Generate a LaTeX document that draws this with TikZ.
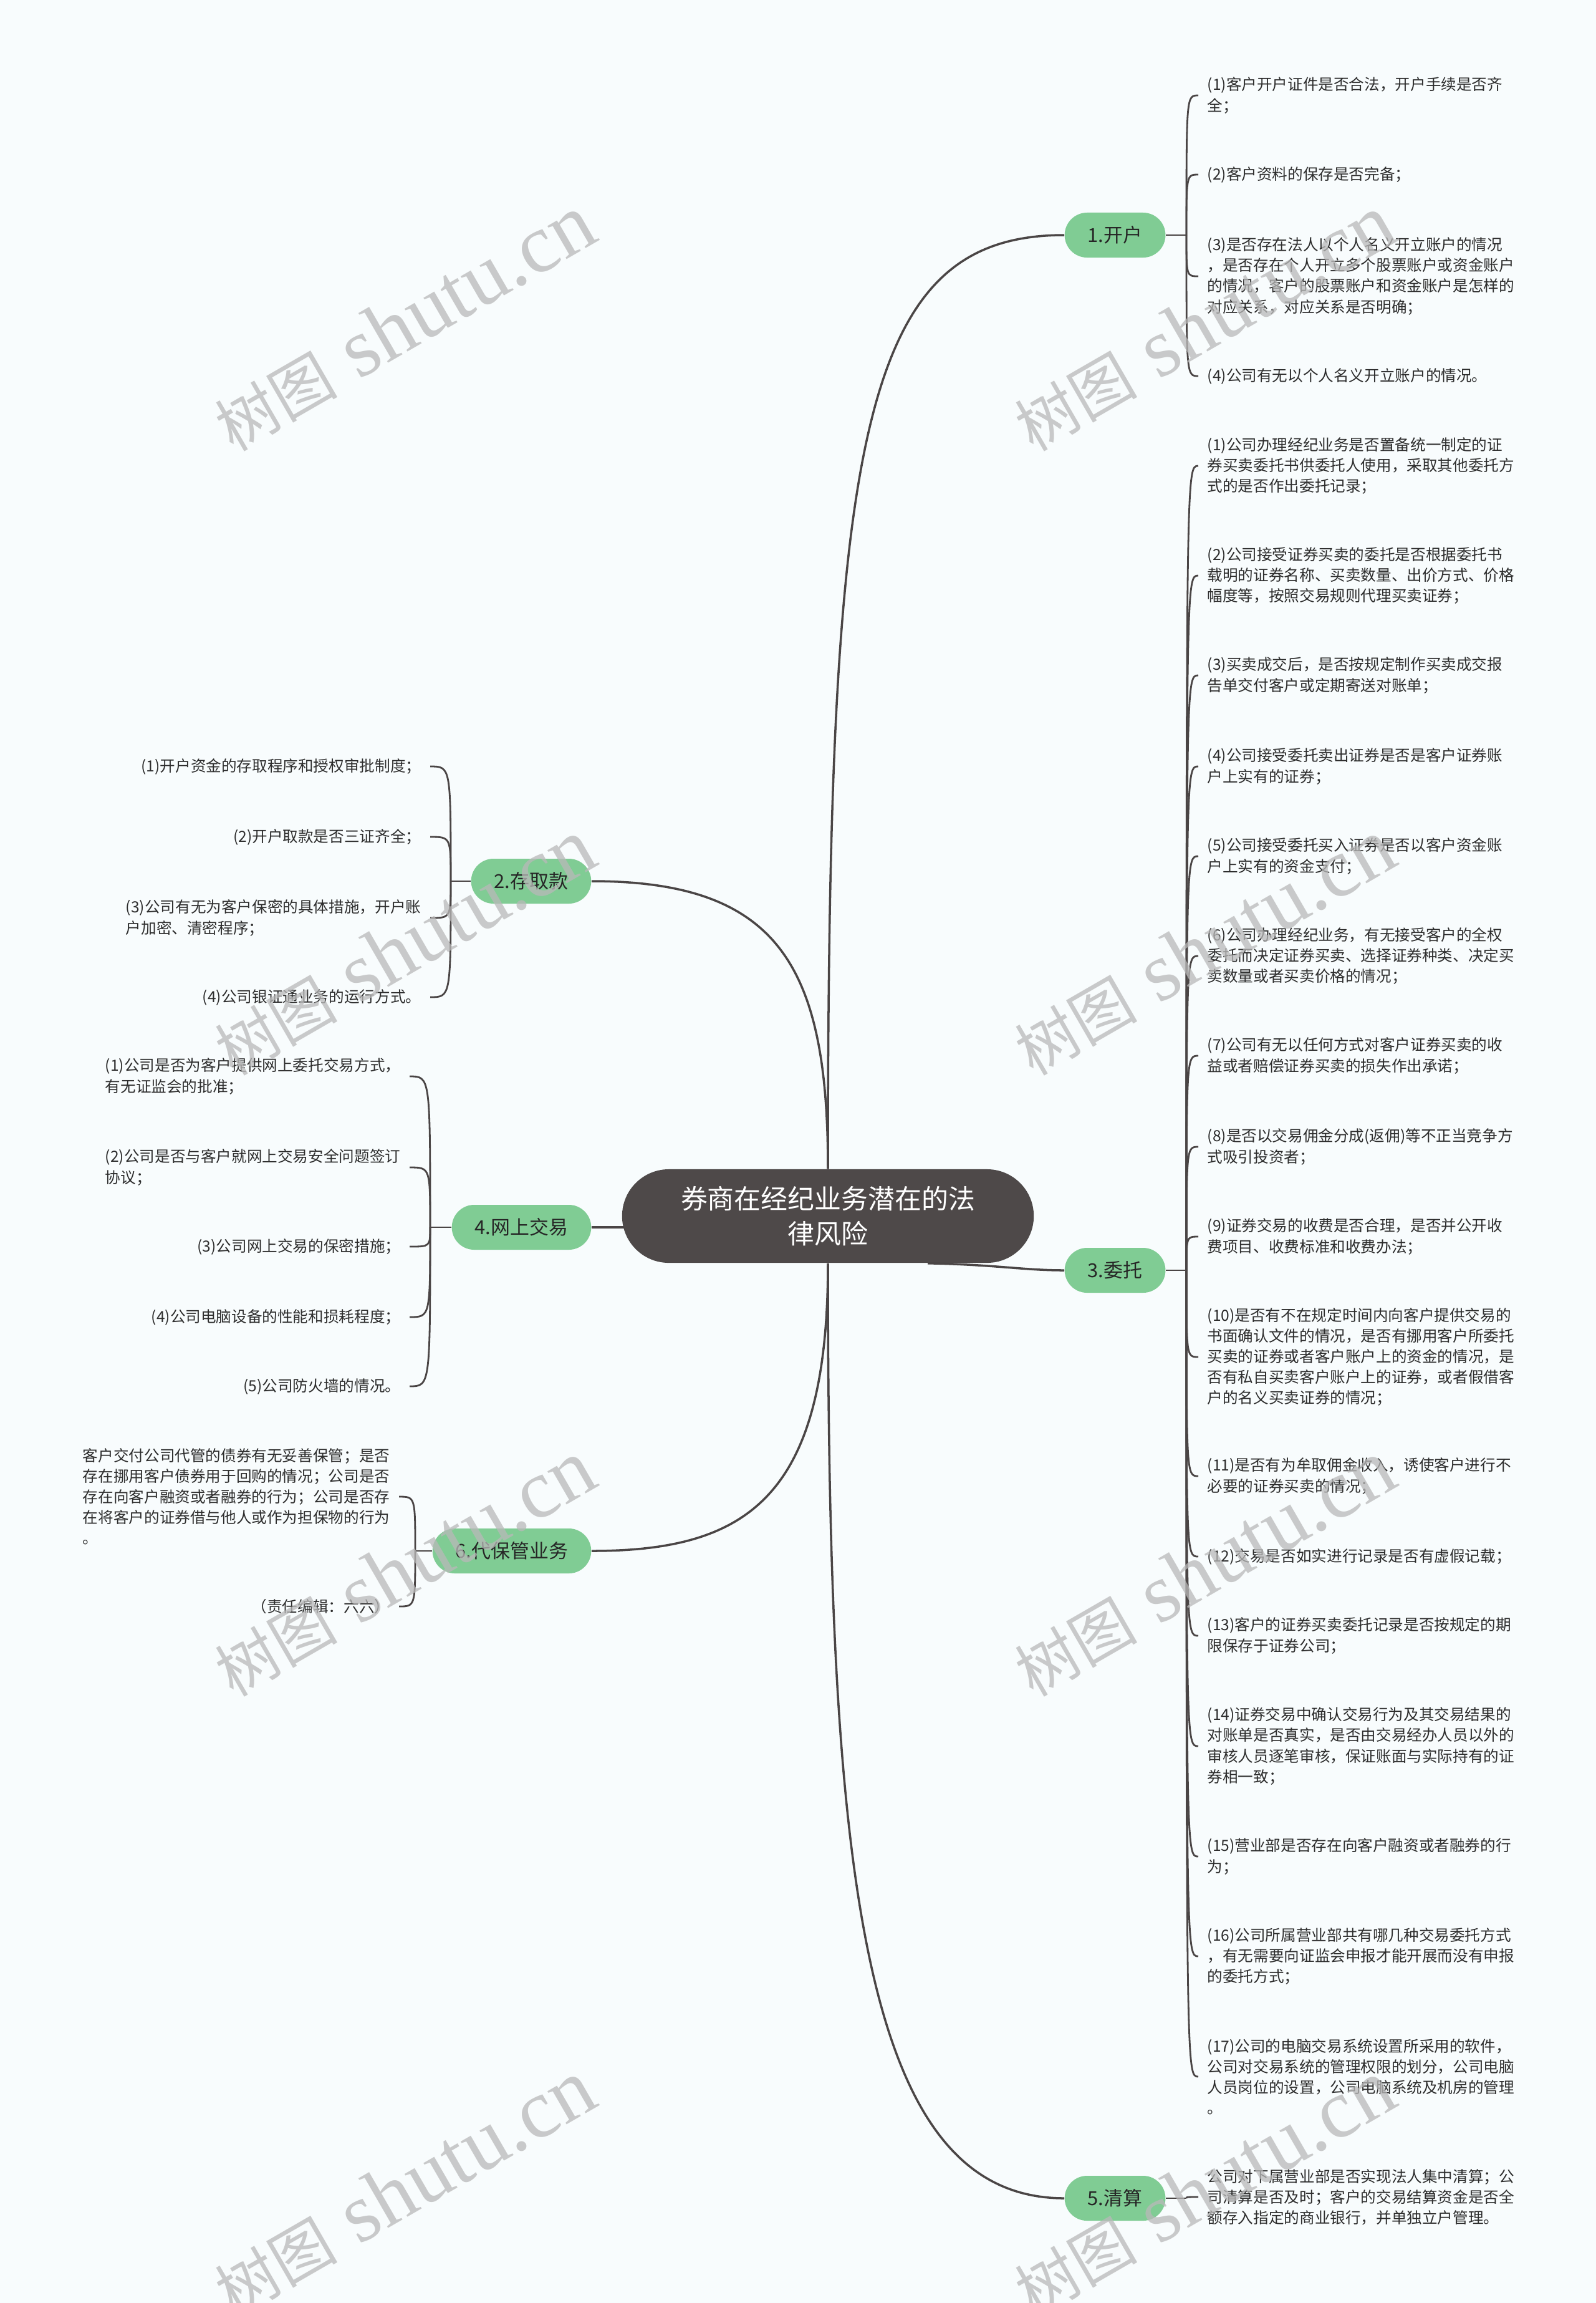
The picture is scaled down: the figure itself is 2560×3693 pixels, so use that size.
\documentclass[tikz,border=0pt]{standalone}
\usepackage{fontspec}
\setmainfont{Noto Sans CJK SC}
\newfontfamily\wmlatin{Liberation Serif}
\definecolor{rootfill}{RGB}{78,73,73}
\definecolor{branchfill}{RGB}{128,204,148}
\definecolor{linecol}{RGB}{74,69,69}
\definecolor{leaftext}{RGB}{45,45,45}
\definecolor{bgcol}{RGB}{248,252,253}
\definecolor{wmcol}{RGB}{185,185,185}
\newcommand{\wmtext}{{\fontsize{28}{30}\selectfont 树图}\hspace{0.35cm}{\wmlatin\fontsize{38}{40}\selectfont shutu.cn}}

\begin{document}
\begin{tikzpicture}[x=0.01cm, y=-0.01cm,
    root/.style={rectangle, rounded corners=0.75cm, fill=rootfill, text=white,
        minimum width=6.6cm, minimum height=1.5cm, align=center,
        font=\fontsize{12.2}{15.9}\selectfont},
    branch/.style={rectangle, rounded corners=0.36cm, fill=branchfill, text=black!85,
        minimum height=0.72cm, inner xsep=0.37cm, font=\fontsize{8.8}{10}\selectfont},
    leafr/.style={anchor=west, align=left, inner xsep=0.14cm, inner ysep=0.05cm,
        text=leaftext, font=\fontsize{7}{9.4}\selectfont},
    leafl/.style={leafr, anchor=east},
    edge/.style={draw=linecol, line width=1pt},
    twig/.style={draw=linecol, line width=0.8pt},
    wmark/.style={rotate=30, text=wmcol, opacity=0.75, inner sep=0pt}
]
    \fill[bgcol] (0,0) rectangle (2560,3693);
    \useasboundingbox (0,0) rectangle (2560,3693);

    % centre and main branches
    \node[root] (root) at (1328,1950) {券商在经纪业务潜在的法\\律风险};
    \node[branch, anchor=west] (kaihu) at (1707,377) {1.开户};
    \node[branch, anchor=east] (cunqu) at (949,1413) {2.存取款};
    \node[branch, anchor=west] (weituo) at (1707,2037) {3.委托};
    \node[branch, anchor=east] (wangshang) at (949,1968) {4.网上交易};
    \node[branch, anchor=west] (qingsuan) at (1707,3525) {5.清算};
    \node[branch, anchor=east] (daibao) at (949,2487) {6.代保管业务};

    \draw[edge] (root.north) .. controls (1328,700) and (1380,377) .. (kaihu.west);
    \draw[edge] (root.north) .. controls (1328,1550) and (1250,1413) .. (cunqu.east);
    \draw[edge] ([xshift=1.6cm]root.south) .. controls (1600,2028) and (1640,2037) .. (weituo.west);
    \draw[edge] ([xshift=0.04cm]root.west |- wangshang.east) -- (wangshang.east);
    \draw[edge] (root.south) .. controls (1328,3000) and (1380,3525) .. (qingsuan.west);
    \draw[edge] (root.south) .. controls (1328,2400) and (1200,2487) .. (daibao.east);

    % junctions
    \coordinate (j1) at (1903,377);
    \coordinate (j3) at (1903,2037);
    \coordinate (j5) at (1903,3525);
    \coordinate (j2) at (723,1413);
    \coordinate (j4) at (690,1968);
    \coordinate (j6) at (666,2487);
    \draw[twig] (kaihu.east) -- (j1);
    \draw[twig] (weituo.east) -- (j3);
    \draw[twig] (qingsuan.east) -- (j5);
    \draw[twig] (cunqu.west) -- (j2);
    \draw[twig] (wangshang.west) -- (j4);
    \draw[twig] (daibao.west) -- (j6);

    % 1.开户
    \node[leafr] (k1) at (1922,153) {(1)客户开户证件是否合法，开户手续是否齐\\全；};
    \node[leafr] (k2) at (1922,280) {(2)客户资料的保存是否完备；};
    \node[leafr] (k3) at (1922,443) {(3)是否存在法人以个人名义开立账户的情况\\，是否存在个人开立多个股票账户或资金账户\\的情况，客户的股票账户和资金账户是怎样的\\对应关系，对应关系是否明确；};
    \node[leafr] (k4) at (1922,603) {(4)公司有无以个人名义开立账户的情况。};
    \draw[twig] (j1) .. controls (j1 |- k1.west) .. (k1.west);
    \draw[twig] (j1) .. controls (j1 |- k2.west) .. (k2.west);
    \draw[twig] (j1) .. controls (j1 |- k3.west) .. (k3.west);
    \draw[twig] (j1) .. controls (j1 |- k4.west) .. (k4.west);

    % 3.委托
    \node[leafr] (w1) at (1922,747) {(1)公司办理经纪业务是否置备统一制定的证\\券买卖委托书供委托人使用，采取其他委托方\\式的是否作出委托记录；};
    \node[leafr] (w2) at (1922,923) {(2)公司接受证券买卖的委托是否根据委托书\\载明的证券名称、买卖数量、出价方式、价格\\幅度等，按照交易规则代理买卖证券；};
    \node[leafr] (w3) at (1922,1083) {(3)买卖成交后，是否按规定制作买卖成交报\\告单交付客户或定期寄送对账单；};
    \node[leafr] (w4) at (1922,1229) {(4)公司接受委托卖出证券是否是客户证券账\\户上实有的证券；};
    \node[leafr] (w5) at (1922,1373) {(5)公司接受委托买入证券是否以客户资金账\\户上实有的资金支付；};
    \node[leafr] (w6) at (1922,1533) {(6)公司办理经纪业务，有无接受客户的全权\\委托而决定证券买卖、选择证券种类、决定买\\卖数量或者买卖价格的情况；};
    \node[leafr] (w7) at (1922,1693) {(7)公司有无以任何方式对客户证券买卖的收\\益或者赔偿证券买卖的损失作出承诺；};
    \node[leafr] (w8) at (1922,1839) {(8)是否以交易佣金分成(返佣)等不正当竞争方\\式吸引投资者；};
    \node[leafr] (w9) at (1922,1983) {(9)证券交易的收费是否合理，是否并公开收\\费项目、收费标准和收费办法；};
    \node[leafr] (w10) at (1922,2176) {(10)是否有不在规定时间内向客户提供交易的\\书面确认文件的情况，是否有挪用客户所委托\\买卖的证券或者客户账户上的资金的情况，是\\否有私自买卖客户账户上的证券，或者假借客\\户的名义买卖证券的情况；};
    \node[leafr] (w11) at (1922,2367) {(11)是否有为牟取佣金收入，诱使客户进行不\\必要的证券买卖的情况；};
    \node[leafr] (w12) at (1922,2496) {(12)交易是否如实进行记录是否有虚假记载；};
    \node[leafr] (w13) at (1922,2623) {(13)客户的证券买卖委托记录是否按规定的期\\限保存于证券公司；};
    \node[leafr] (w14) at (1922,2800) {(14)证券交易中确认交易行为及其交易结果的\\对账单是否真实，是否由交易经办人员以外的\\审核人员逐笔审核，保证账面与实际持有的证\\券相一致；};
    \node[leafr] (w15) at (1922,2977) {(15)营业部是否存在向客户融资或者融券的行\\为；};
    \node[leafr] (w16) at (1922,3137) {(16)公司所属营业部共有哪几种交易委托方式\\，有无需要向证监会申报才能开展而没有申报\\的委托方式；};
    \node[leafr] (w17) at (1922,3330) {(17)公司的电脑交易系统设置所采用的软件，\\公司对交易系统的管理权限的划分，公司电脑\\人员岗位的设置，公司电脑系统及机房的管理\\。};
    \draw[twig] (j3) .. controls (j3 |- w1.west) .. (w1.west);
    \draw[twig] (j3) .. controls (j3 |- w2.west) .. (w2.west);
    \draw[twig] (j3) .. controls (j3 |- w3.west) .. (w3.west);
    \draw[twig] (j3) .. controls (j3 |- w4.west) .. (w4.west);
    \draw[twig] (j3) .. controls (j3 |- w5.west) .. (w5.west);
    \draw[twig] (j3) .. controls (j3 |- w6.west) .. (w6.west);
    \draw[twig] (j3) .. controls (j3 |- w7.west) .. (w7.west);
    \draw[twig] (j3) .. controls (j3 |- w8.west) .. (w8.west);
    \draw[twig] (j3) .. controls (j3 |- w9.west) .. (w9.west);
    \draw[twig] (j3) .. controls (j3 |- w10.west) .. (w10.west);
    \draw[twig] (j3) .. controls (j3 |- w11.west) .. (w11.west);
    \draw[twig] (j3) .. controls (j3 |- w12.west) .. (w12.west);
    \draw[twig] (j3) .. controls (j3 |- w13.west) .. (w13.west);
    \draw[twig] (j3) .. controls (j3 |- w14.west) .. (w14.west);
    \draw[twig] (j3) .. controls (j3 |- w15.west) .. (w15.west);
    \draw[twig] (j3) .. controls (j3 |- w16.west) .. (w16.west);
    \draw[twig] (j3) .. controls (j3 |- w17.west) .. (w17.west);

    % 5.清算
    \node[leafr] (q1) at (1922,3523) {公司对下属营业部是否实现法人集中清算；公\\司清算是否及时；客户的交易结算资金是否全\\额存入指定的商业银行，并单独立户管理。};
    \draw[twig] (j5) .. controls (j5 |- q1.west) .. (q1.west);

    % 2.存取款
    \node[leafl] (c1) at (690,1229) {(1)开户资金的存取程序和授权审批制度；};
    \node[leafl] (c2) at (690,1342) {(2)开户取款是否三证齐全；};
    \node[leafl] (c3) at (690,1472) {(3)公司有无为客户保密的具体措施，开户账\\户加密、清密程序；};
    \node[leafl] (c4) at (690,1599) {(4)公司银证通业务的运行方式。};
    \draw[twig] (j2) .. controls (j2 |- c1.east) .. (c1.east);
    \draw[twig] (j2) .. controls (j2 |- c2.east) .. (c2.east);
    \draw[twig] (j2) .. controls (j2 |- c3.east) .. (c3.east);
    \draw[twig] (j2) .. controls (j2 |- c4.east) .. (c4.east);

    % 4.网上交易
    \node[leafl] (s1) at (657,1726) {(1)公司是否为客户提供网上委托交易方式，\\有无证监会的批准；};
    \node[leafl] (s2) at (657,1872) {(2)公司是否与客户就网上交易安全问题签订\\协议；};
    \node[leafl] (s3) at (657,1999) {(3)公司网上交易的保密措施；};
    \node[leafl] (s4) at (657,2112) {(4)公司电脑设备的性能和损耗程度；};
    \node[leafl] (s5) at (657,2223) {(5)公司防火墙的情况。};
    \draw[twig] (j4) .. controls (j4 |- s1.east) .. (s1.east);
    \draw[twig] (j4) .. controls (j4 |- s2.east) .. (s2.east);
    \draw[twig] (j4) .. controls (j4 |- s3.east) .. (s3.east);
    \draw[twig] (j4) .. controls (j4 |- s4.east) .. (s4.east);
    \draw[twig] (j4) .. controls (j4 |- s5.east) .. (s5.east);

    % 6.代保管业务
    \node[leafl] (d1) at (640,2400) {客户交付公司代管的债券有无妥善保管；是否\\存在挪用客户债券用于回购的情况；公司是否\\存在向客户融资或者融券的行为；公司是否存\\在将客户的证券借与他人或作为担保物的行为\\。};
    \node[leafl] (d2) at (640,2576) {（责任编辑：六六）};
    \draw[twig] (j6) .. controls (j6 |- d1.east) .. (d1.east);
    \draw[twig] (j6) .. controls (j6 |- d2.east) .. (d2.east);

    % watermarks
    \node[wmark] (wm1) at (648,518) {\wmtext};
    \node[wmark] (wm2) at (1931,518) {\wmtext};
    \node[wmark] (wm3) at (648,1519) {\wmtext};
    \node[wmark] (wm4) at (1931,1519) {\wmtext};
    \node[wmark] (wm5) at (648,2515) {\wmtext};
    \node[wmark] (wm6) at (1931,2515) {\wmtext};
    \node[wmark] (wm7) at (648,3509) {\wmtext};
    \node[wmark] (wm8) at (1931,3509) {\wmtext};
\end{tikzpicture}
\end{document}
